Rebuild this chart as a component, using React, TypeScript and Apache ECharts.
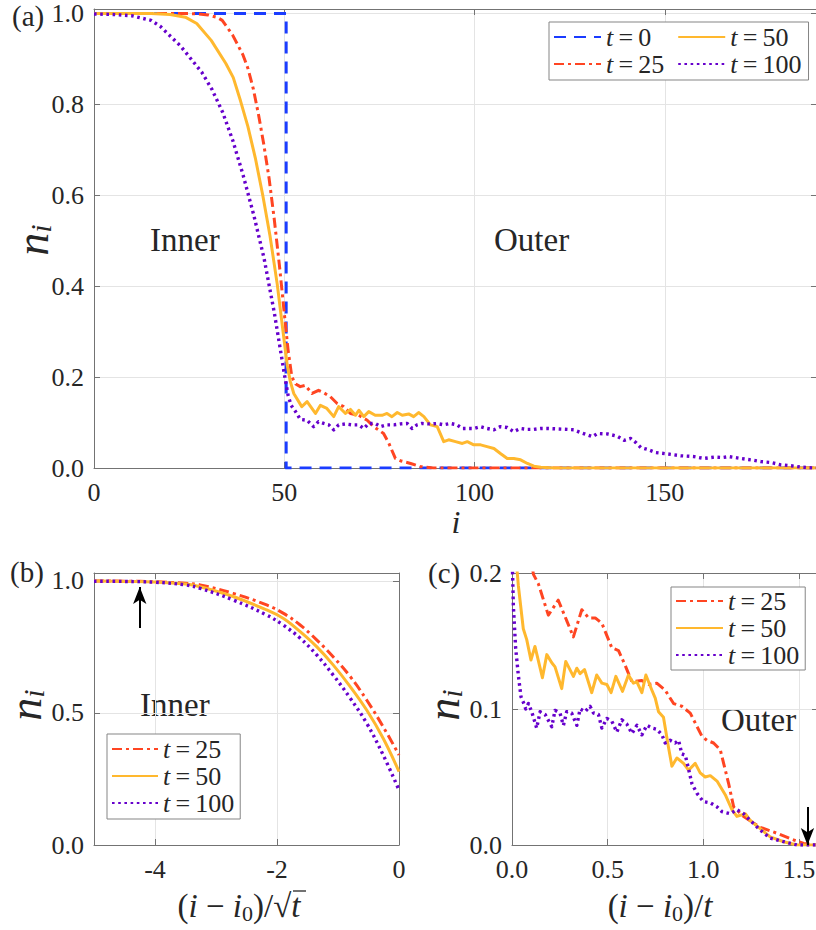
import React, { useEffect, useRef } from "react";
import * as echarts from "echarts";

const FONT = "'Liberation Serif', 'Times New Roman', serif";
const TXT = "#262626";
const FRAME = "#737373";
const GRIDC = "#e4e4e4";

const COLOR_T0 = "#1a3cff";
const COLOR_T25 = "#ff4522";
const COLOR_T50 = "#ffb82e";
const COLOR_T100 = "#6600cc";

// ---------- ticks ----------
const A_X_TICKS = [0, 50, 100, 150];
const A_Y_TICKS = [0, 0.2, 0.4, 0.6, 0.8, 1.0];
const B_X_TICKS = [-4, -2, 0];
const B_Y_TICKS = [0, 0.5, 1.0];
const C_X_TICKS = [0, 0.5, 1.0, 1.5];
const C_Y_TICKS = [0, 0.1, 0.2];

// ---------- panel (a): n_i versus i ----------
const A_T0 = [[0, 1], [50.5, 1], [50.5, 0], [190, 0]];
const A_T25 = [[0, 1], [25, 1], [27.5, 0.999], [30, 0.997], [32.5, 0.991], [33.7, 0.985], [36.4, 0.953], [39.15, 0.909], [40.5, 0.878], [41.9, 0.833], [43.25, 0.777], [44.6, 0.713], [46, 0.638], [47.35, 0.549], [48.7, 0.448], [50, 0.341], [51, 0.26], [52, 0.2], [53, 0.185], [54.2, 0.179], [55.5, 0.182], [57.3, 0.164], [59, 0.171], [60.3, 0.166], [62.1, 0.157], [63.9, 0.142], [65.6, 0.135], [67.4, 0.12], [69.6, 0.116], [71.8, 0.105], [73.5, 0.091], [76.1, 0.076], [77.5, 0.054], [79.2, 0.021], [80.5, 0.016], [83.2, 0.01], [85.8, 0.003], [89.2, 0], [190, 0]];
const A_T50 = [[0, 1], [15, 1], [20, 0.998], [24, 0.992], [27, 0.978], [30.8, 0.941], [34.65, 0.89], [36.6, 0.859], [38.5, 0.808], [40.45, 0.751], [42.4, 0.682], [44.35, 0.6], [46.25, 0.511], [48.16, 0.404], [50, 0.278], [50.8, 0.225], [51.6, 0.19], [52.5, 0.164], [54.6, 0.135], [56, 0.146], [58.2, 0.12], [59.5, 0.138], [61.2, 0.131], [63, 0.113], [64.3, 0.135], [66.1, 0.12], [67.4, 0.129], [68.7, 0.116], [69.6, 0.127], [70.9, 0.113], [72.2, 0.124], [73.9, 0.116], [75.7, 0.116], [77, 0.12], [78.3, 0.113], [79.7, 0.122], [81, 0.116], [82.7, 0.119], [84, 0.113], [85.3, 0.122], [86.7, 0.113], [88.4, 0.095], [90.2, 0.091], [91.9, 0.058], [93.2, 0.062], [95, 0.058], [96.8, 0.054], [98.1, 0.058], [99.8, 0.051], [101.6, 0.051], [103.3, 0.047], [105.1, 0.043], [106.8, 0.032], [108.6, 0.021], [110.3, 0.021], [112.1, 0.018], [113.9, 0.01], [115.6, 0.004], [117.4, 0.0015], [121, 0], [190, 0]];
const A_T100 = [[0, 0.999], [5, 0.998], [10, 0.995], [15, 0.985], [17.4, 0.972], [22.8, 0.928], [28.3, 0.871], [31, 0.833], [33.8, 0.783], [36.5, 0.72], [39.2, 0.644], [42, 0.556], [44.7, 0.461], [47.4, 0.341], [50, 0.208], [51, 0.16], [51.8, 0.138], [52.9, 0.125], [54.2, 0.107], [56, 0.105], [57.7, 0.091], [59, 0.102], [60.4, 0.098], [61.7, 0.095], [63, 0.084], [64.3, 0.095], [66.1, 0.097], [67.8, 0.095], [69.6, 0.095], [70.9, 0.087], [72.2, 0.098], [73.9, 0.098], [75.3, 0.091], [77, 0.095], [78.8, 0.095], [80.5, 0.097], [82.3, 0.098], [83.6, 0.087], [84.9, 0.095], [86.2, 0.098], [87.6, 0.097], [88.9, 0.097], [90.2, 0.098], [91.9, 0.095], [93.7, 0.098], [95.4, 0.095], [96.8, 0.087], [98.5, 0.087], [99.8, 0.087], [101.6, 0.091], [103.3, 0.087], [105.1, 0.084], [106.8, 0.091], [108.6, 0.089], [110.3, 0.08], [112.1, 0.087], [113.9, 0.085], [115.6, 0.085], [117.4, 0.087], [119, 0.087], [121.8, 0.086], [124.4, 0.085], [126.1, 0.084], [127.9, 0.078], [131, 0.069], [132.3, 0.076], [134.9, 0.075], [137.5, 0.07], [139.3, 0.061], [141, 0.065], [142.4, 0.056], [143.7, 0.045], [145.4, 0.041], [147.6, 0.034], [150.7, 0.031], [154.2, 0.027], [157.7, 0.025], [160.3, 0.021], [163, 0.024], [165.2, 0.023], [166.9, 0.025], [170, 0.021], [172.6, 0.018], [175.3, 0.014], [177.9, 0.012], [180.5, 0.007], [183.2, 0.005], [185.8, 0.002], [189.3, 0], [190, 0]];

// ---------- panel (b): n_i versus (i-i0)/sqrt(t) ----------
const B_X = [-5, -4.5, -4, -3.5, -3.26, -2.72, -2.17, -1.9, -1.62, -1.35, -1.08, -0.8, -0.53, -0.26, 0];
const B_T25 = [1.0, 0.999, 0.997, 0.991, 0.985, 0.953, 0.909, 0.878, 0.833, 0.777, 0.713, 0.638, 0.549, 0.448, 0.341];
const B_T50 = [1.0, 0.998, 0.996, 0.988, 0.978, 0.941, 0.89, 0.859, 0.808, 0.751, 0.682, 0.6, 0.511, 0.404, 0.278];
const B_T100 = [0.999, 0.998, 0.995, 0.985, 0.972, 0.928, 0.871, 0.833, 0.783, 0.72, 0.644, 0.556, 0.461, 0.341, 0.208];
const B_ARROW = { x: -4.25, from: 0.822, to: 0.977 };

// ---------- panel (c): n_i versus (i-i0)/t ----------
const C_T25 = [[0, 0.34], [0.05, 0.26], [0.112, 0.199], [0.138, 0.192], [0.19, 0.169], [0.242, 0.18], [0.286, 0.165], [0.321, 0.153], [0.365, 0.173], [0.4, 0.167], [0.435, 0.167], [0.47, 0.163], [0.522, 0.145], [0.557, 0.143], [0.592, 0.132], [0.627, 0.12], [0.679, 0.121], [0.714, 0.118], [0.757, 0.119], [0.8, 0.114], [0.845, 0.104], [0.888, 0.102], [0.932, 0.097], [0.993, 0.08], [1.019, 0.077], [1.054, 0.075], [1.089, 0.07], [1.133, 0.045], [1.159, 0.028], [1.211, 0.021], [1.298, 0.013], [1.386, 0.0086], [1.473, 0.0037], [1.525, 0.0012], [1.59, 0], [1.6, 0]];
const C_T50 = [[0, 0.27], [0.012, 0.235], [0.024, 0.206], [0.033, 0.191], [0.059, 0.159], [0.077, 0.151], [0.099, 0.136], [0.12, 0.146], [0.159, 0.123], [0.182, 0.14], [0.208, 0.134], [0.225, 0.131], [0.26, 0.115], [0.281, 0.135], [0.321, 0.124], [0.339, 0.13], [0.356, 0.126], [0.379, 0.129], [0.417, 0.112], [0.443, 0.125], [0.47, 0.119], [0.496, 0.118], [0.518, 0.112], [0.543, 0.124], [0.578, 0.113], [0.609, 0.125], [0.635, 0.119], [0.653, 0.12], [0.679, 0.112], [0.7, 0.125], [0.731, 0.114], [0.749, 0.108], [0.766, 0.098], [0.792, 0.094], [0.818, 0.072], [0.836, 0.058], [0.862, 0.064], [0.897, 0.06], [0.923, 0.055], [0.958, 0.06], [0.984, 0.053], [1.01, 0.05], [1.037, 0.051], [1.072, 0.047], [1.115, 0.037], [1.15, 0.026], [1.176, 0.021], [1.22, 0.023], [1.246, 0.018], [1.298, 0.012], [1.35, 0.006], [1.42, 0.0024], [1.49, 0], [1.6, 0]];
const C_T100 = [[0, 0.21], [0.003, 0.2], [0.007, 0.176], [0.019, 0.145], [0.033, 0.125], [0.047, 0.109], [0.059, 0.105], [0.072, 0.1], [0.086, 0.104], [0.103, 0.098], [0.129, 0.086], [0.147, 0.098], [0.173, 0.096], [0.208, 0.087], [0.225, 0.099], [0.251, 0.097], [0.269, 0.088], [0.286, 0.098], [0.312, 0.097], [0.339, 0.088], [0.356, 0.1], [0.382, 0.098], [0.408, 0.102], [0.426, 0.097], [0.452, 0.096], [0.47, 0.086], [0.496, 0.093], [0.522, 0.091], [0.548, 0.083], [0.574, 0.092], [0.6, 0.089], [0.627, 0.082], [0.653, 0.088], [0.679, 0.081], [0.705, 0.088], [0.731, 0.086], [0.758, 0.085], [0.784, 0.081], [0.801, 0.075], [0.827, 0.077], [0.853, 0.075], [0.871, 0.077], [0.888, 0.067], [0.906, 0.066], [0.923, 0.056], [0.941, 0.045], [0.967, 0.038], [1.0, 0.032], [1.037, 0.031], [1.072, 0.028], [1.098, 0.0245], [1.141, 0.023], [1.176, 0.026], [1.211, 0.023], [1.246, 0.018], [1.298, 0.011], [1.35, 0.005], [1.42, 0.0025], [1.49, 0], [1.6, 0]];
const C_ARROW = { x: 1.545, from: 0.028, to: 0.0 };

const STY: Record<string, any> = {
  t0: { color: COLOR_T0, width: 3, type: [12, 8] },
  t25: { color: COLOR_T25, width: 3, type: [10, 4, 3, 4] },
  t50: { color: COLOR_T50, width: 3, type: "solid" },
  t100: { color: COLOR_T100, width: 3.4, type: [2.6, 3.6] },
};

const fmt1 = (v: number) => v.toFixed(1);
const fmtInt = (v: number) => String(Math.round(v));

function xAxes(grid: number, min: number, max: number, ticks: number[], fmt: any) {
  const line = { show: true, onZero: false, lineStyle: { color: FRAME, width: 1 } };
  const tick = { show: true, inside: true, length: 6, customValues: ticks, lineStyle: { color: FRAME, width: 1 } };
  return [
    {
      type: "value", gridIndex: grid, min, max, position: "bottom",
      axisLine: line, axisTick: tick,
      axisLabel: { show: true, customValues: ticks, formatter: fmt, margin: 11, color: TXT, fontFamily: FONT, fontSize: 26 },
      splitLine: { show: true, lineStyle: { color: GRIDC, width: 1 } },
    },
    {
      type: "value", gridIndex: grid, min, max, position: "top",
      axisLine: line, axisTick: tick, axisLabel: { show: false }, splitLine: { show: false },
    },
  ];
}

function yAxes(grid: number, min: number, max: number, ticks: number[], fmt: any) {
  const line = { show: true, onZero: false, lineStyle: { color: FRAME, width: 1 } };
  const tick = { show: true, inside: true, length: 6, customValues: ticks, lineStyle: { color: FRAME, width: 1 } };
  return [
    {
      type: "value", gridIndex: grid, min, max, position: "left",
      axisLine: line, axisTick: tick,
      axisLabel: { show: true, customValues: ticks, formatter: fmt, margin: 10, color: TXT, fontFamily: FONT, fontSize: 26 },
      splitLine: { show: true, lineStyle: { color: GRIDC, width: 1 } },
    },
    {
      type: "value", gridIndex: grid, min, max, position: "right",
      axisLine: line, axisTick: tick, axisLabel: { show: false }, splitLine: { show: false },
    },
  ];
}

function lineSeries(name: string, data: any[], sty: any, xi: number, yi: number, extra: any = {}) {
  return {
    type: "line", name, data, xAxisIndex: xi, yAxisIndex: yi,
    showSymbol: false, symbol: "none", silent: true, clip: true,
    lineStyle: { color: sty.color, width: sty.width, type: sty.type, cap: "butt", join: "round" },
    itemStyle: { color: sty.color },
    emphasis: { disabled: true },
    ...extra,
  };
}

const SMOOTH_B = { smooth: 0.4 };

function arrowMark(a: { x: number; from: number; to: number }) {
  return {
    markLine: {
      silent: true, animation: false, symbol: ["none", "arrow"], symbolSize: [10, 17],
      lineStyle: { color: "#000", width: 2, type: "solid" },
      itemStyle: { color: "#000" },
      label: { show: false },
      emphasis: { disabled: true },
      data: [[{ coord: [a.x, a.from] }, { coord: [a.x, a.to] }]],
    },
  };
}

const legendFormatter = (name: string) => `{it|t}{rm|\u2009=\u2009${name.split("=")[1]}}`;
const legendRich = (w: number) => ({
  it: { fontFamily: FONT, fontStyle: "italic", fontSize: 26, color: TXT, lineHeight: 30 },
  rm: { fontFamily: FONT, fontSize: 26, color: TXT, lineHeight: 30, width: w },
});
const LEGEND_COMMON = {
  itemHeight: 30, itemGap: 1,
  borderColor: "#858585", borderWidth: 1, backgroundColor: "#ffffff",
  selectedMode: false,
  itemStyle: { color: "rgba(0,0,0,0)", opacity: 0, borderWidth: 0 },
  formatter: legendFormatter,
};

function text(x: number, y: number, str: string, size: number, extra: any = {}) {
  return {
    type: "text", x, y, silent: true,
    style: {
      text: str, fill: TXT, fontFamily: FONT, fontSize: size,
      align: "left", verticalAlign: "middle", textAlign: "left", textVerticalAlign: "middle",
      ...extra,
    },
  };
}

function yLabel(x: number, y: number) {
  return {
    type: "text", x, y, rotation: Math.PI / 2, silent: true,
    style: {
      text: "{n|n}{s|i}", align: "center", verticalAlign: "middle",
      textAlign: "center", textVerticalAlign: "middle",
      rich: {
        n: { fontFamily: FONT, fontStyle: "italic", fontSize: 46, lineHeight: 46, fill: TXT },
        s: { fontFamily: FONT, fontStyle: "italic", fontSize: 30, lineHeight: 22, fill: TXT, verticalAlign: "bottom" },
      },
    },
  };
}

const xRich = {
  r: { fontFamily: FONT, fontSize: 33, lineHeight: 36, fill: TXT },
  i: { fontFamily: FONT, fontStyle: "italic", fontSize: 33, lineHeight: 36, fill: TXT },
  s: { fontFamily: FONT, fontSize: 22, lineHeight: 16, fill: TXT, verticalAlign: "bottom" },
};

export default function App() {
  const ref = useRef<HTMLDivElement>(null);
  useEffect(() => {
    if (!ref.current) return;
    const chart = echarts.init(ref.current, null, { renderer: "svg" });
    const option: any = {
      animation: false,
      backgroundColor: "#ffffff",
      grid: [
        { left: 94, top: 9, width: 723, height: 459, outerBoundsMode: "none", containLabel: false },
        { left: 94, top: 573, width: 305, height: 272, outerBoundsMode: "none", containLabel: false },
        { left: 512, top: 573, width: 306, height: 272, outerBoundsMode: "none", containLabel: false },
      ],
      xAxis: [
        ...xAxes(0, 0, 190, A_X_TICKS, fmtInt),
        ...xAxes(1, -5, 0, B_X_TICKS, fmtInt),
        ...xAxes(2, 0, 1.6, C_X_TICKS, fmt1),
      ],
      yAxis: [
        ...yAxes(0, 0, 1.01, A_Y_TICKS, fmt1),
        ...yAxes(1, 0, 1.03, B_Y_TICKS, fmt1),
        ...yAxes(2, 0, 0.2, C_Y_TICKS, fmt1),
      ],
      legend: [
        {
          ...LEGEND_COMMON,
          left: 549, top: 22, orient: "horizontal", width: 250,
          itemWidth: 47, padding: [2, 7, 3, 4],
          data: ["t=0", "t=50", "t=25", "t=100"],
          textStyle: { rich: legendRich(63) },
        },
        {
          ...LEGEND_COMMON,
          left: 107, top: 734, orient: "vertical",
          itemWidth: 46, padding: [2, 4, 3, 4],
          data: ["t=25", "t=50", "t=100"],
          textStyle: { rich: legendRich(66) },
        },
        {
          ...LEGEND_COMMON,
          left: 671, top: 587, orient: "vertical",
          itemWidth: 47, padding: [1, 4, 2, 4],
          data: ["t=25", "t=50", "t=100"],
          textStyle: { rich: legendRich(66) },
        },
      ],
      series: [
        lineSeries("t=0", A_T0, STY.t0, 0, 0),
        lineSeries("t=25", A_T25, STY.t25, 0, 0),
        lineSeries("t=50", A_T50, STY.t50, 0, 0),
        lineSeries("t=100", A_T100, STY.t100, 0, 0),
        lineSeries("t=25", B_X.map((x, k) => [x, B_T25[k]]), STY.t25, 2, 2, SMOOTH_B),
        lineSeries("t=50", B_X.map((x, k) => [x, B_T50[k]]), STY.t50, 2, 2, SMOOTH_B),
        lineSeries("t=100", B_X.map((x, k) => [x, B_T100[k]]), STY.t100, 2, 2, { ...SMOOTH_B, ...arrowMark(B_ARROW) }),
        lineSeries("t=25", C_T25, STY.t25, 4, 4),
        lineSeries("t=50", C_T50, STY.t50, 4, 4),
        lineSeries("t=100", C_T100, STY.t100, 4, 4, arrowMark(C_ARROW)),
      ],
      graphic: [
        text(12, 16, "(a)", 29),
        text(10, 572, "(b)", 29),
        text(428, 573, "(c)", 29),
        text(150, 240, "Inner", 33),
        text(494, 240, "Outer", 33),
        text(140, 705, "Inner", 33),
        text(721, 720, "Outer", 33),
        text(456, 522, "i", 32, { fontStyle: "italic", align: "center", textAlign: "center" }),
        {
          type: "text", x: 239, y: 906, silent: true,
          style: {
            text: "{r|(}{i|i}{r| \u2212 }{i|i}{s|0}{r|)/\u221A}{i|t}",
            align: "center", verticalAlign: "middle", textAlign: "center", textVerticalAlign: "middle",
            rich: xRich,
          },
        },
        {
          type: "line", silent: true,
          shape: { x1: 293, y1: 891, x2: 306, y2: 891 },
          style: { stroke: TXT, lineWidth: 1.3 },
        },
        {
          type: "text", x: 660, y: 906, silent: true,
          style: {
            text: "{r|(}{i|i}{r| \u2212 }{i|i}{s|0}{r|)/}{i|t}",
            align: "center", verticalAlign: "middle", textAlign: "center", textVerticalAlign: "middle",
            rich: xRich,
          },
        },
        yLabel(32, 240),
        yLabel(25, 705),
        yLabel(443, 705),
      ],
    };
    chart.setOption(option);
    return () => chart.dispose();
  }, []);
  return (
    <div
      ref={ref}
      style={{ position: "absolute", left: 0, top: 0, width: 816, height: 930, background: "#fff" }}
    />
  );
}
